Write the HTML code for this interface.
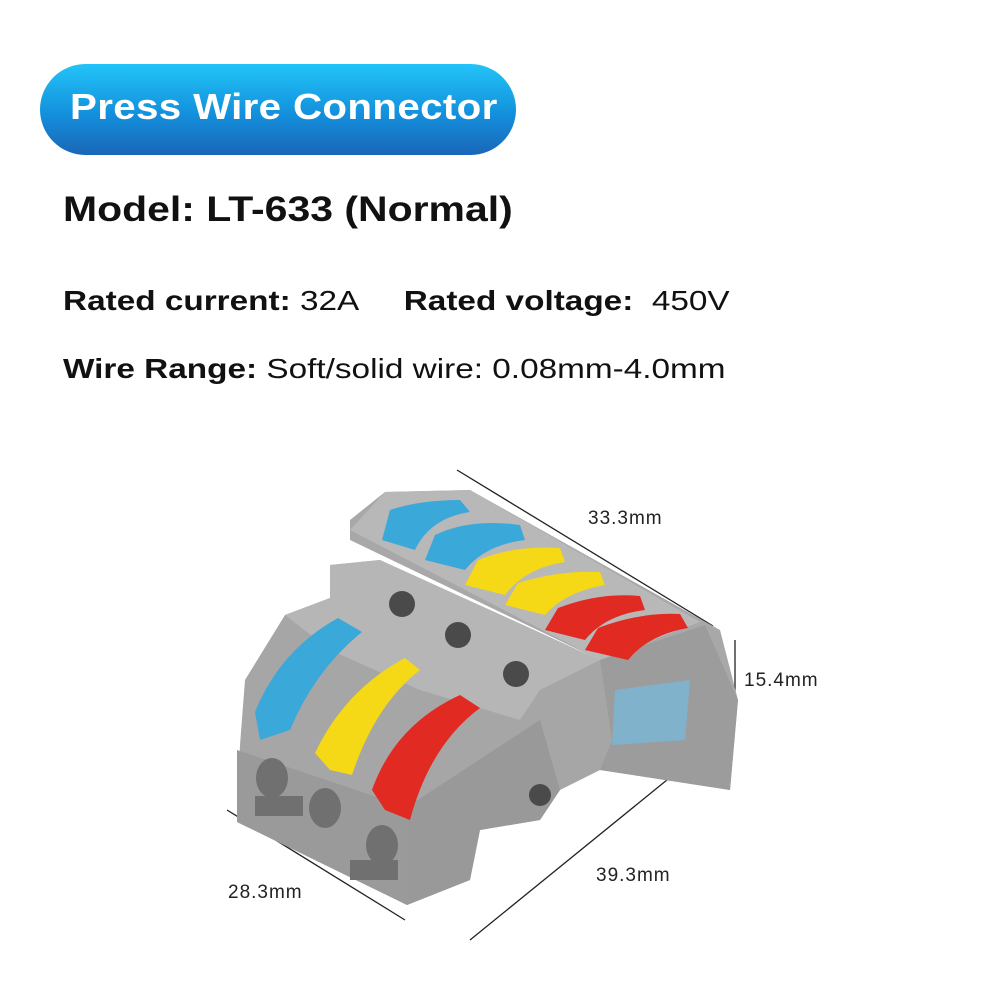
<!DOCTYPE html>
<html><head><meta charset="utf-8"><style>
body{margin:0;width:1000px;height:1000px;background:#fff;position:relative;overflow:hidden;font-family:"Liberation Sans",Arial,sans-serif}
.ban{position:absolute;left:40px;top:64px;width:476px;height:91px;border-radius:46px;background:linear-gradient(#22c4f8,#1390dc 55%,#1a66b8);}
.ban span{position:absolute;left:70px;top:22px;color:#fff;font-weight:bold;font-size:36px;white-space:nowrap;transform:scaleX(1.12);transform-origin:0 0;display:block;letter-spacing:0.3px}
.ban span{left:30px}
.t{position:absolute;color:#111;white-space:nowrap;transform-origin:0 0}
</style></head><body>
<div class="ban"><span>Press Wire Connector</span></div>
<div class="t" style="left:63px;top:190px;font-size:35px;font-weight:bold;transform:scaleX(1.17)">Model: LT-633 (Normal)</div>
<div class="t" style="left:63px;top:285px;font-size:28px;transform:scaleX(1.19)"><b>Rated current:</b> 32A &nbsp;&nbsp;&nbsp;&nbsp;<b>Rated voltage:</b>&nbsp; 450V</div>
<div class="t" style="left:63px;top:353px;font-size:28px;transform:scaleX(1.19)"><b>Wire Range:</b> Soft/solid wire: 0.08mm-4.0mm</div>
<svg width="1000" height="1000" style="position:absolute;left:0;top:0">
<g stroke="#222" stroke-width="1.3">
<line x1="457" y1="470" x2="713" y2="626"/>
<line x1="735" y1="640" x2="735" y2="715"/>
<line x1="227" y1="810" x2="405" y2="920"/>
<line x1="470" y1="940" x2="710" y2="745"/>
</g>
<g font-family="Liberation Sans,sans-serif" font-size="19" fill="#222" letter-spacing="1">
<text x="588" y="524">33.3mm</text>
<text x="744" y="686">15.4mm</text>
<text x="228" y="898">28.3mm</text>
<text x="596" y="881">39.3mm</text>
</g>
<polygon points="350,540 350,520 385,492 470,490 720,630 738,700 730,790 600,770 600,660" fill="#a8a8a8"/>
<polygon points="350,530 385,492 470,490 700,622 600,660" fill="#b8b8b8"/>
<polygon points="600,660 705,625 738,700 730,790 600,770" fill="#9c9c9c"/>
<polygon points="615,690 690,680 685,740 612,745" fill="#7ab8d8" opacity="0.8"/>
<polygon points="240,745 245,680 285,615 330,598 330,565 380,560 600,660 612,740 600,770 560,790 540,820 480,830 470,880 407,905 237,822" fill="#a6a6a6"/>
<polygon points="285,615 330,598 330,565 380,560 600,660 540,690 520,720 420,690 330,650" fill="#b6b6b6"/>
<polygon points="237,750 407,807 407,905 237,822" fill="#9a9a9a"/>
<polygon points="407,807 540,720 560,790 540,820 480,830 470,880 407,905" fill="#999"/>
<g fill="#4a4a4a"><circle cx="402" cy="604" r="13"/><circle cx="458" cy="635" r="13"/><circle cx="516" cy="674" r="13"/><circle cx="540" cy="795" r="11"/></g>
<g fill="#707070"><ellipse cx="272" cy="778" rx="16" ry="20"/><ellipse cx="325" cy="808" rx="16" ry="20"/><ellipse cx="382" cy="845" rx="16" ry="20"/>
<rect x="255" y="796" width="48" height="20"/><rect x="350" y="860" width="48" height="20"/></g>
<g>
<path d="M382,540 L390,510 Q420,500 460,500 L470,512 Q430,518 415,550 Z" fill="#3aa8d8"/>
<path d="M425,560 L435,535 Q470,518 520,525 L525,540 Q485,545 465,570 Z" fill="#3aa8d8"/>
<path d="M465,585 L478,560 Q515,545 560,548 L565,562 Q525,568 505,595 Z" fill="#f5d816"/>
<path d="M505,605 L518,583 Q560,570 600,572 L605,585 Q565,592 545,615 Z" fill="#f5d816"/>
<path d="M545,630 L558,608 Q600,592 640,596 L645,610 Q605,615 585,640 Z" fill="#e02a22"/>
<path d="M585,650 L598,628 Q640,612 680,614 L688,628 Q648,635 628,660 Z" fill="#e02a22"/>
</g>
<path d="M260,740 L255,712 Q280,650 338,618 L362,632 Q315,670 290,730 Z" fill="#3aa8d8"/>
<path d="M330,770 L315,753 Q345,690 405,658 L420,670 Q375,705 352,775 Z" fill="#f5d816"/>
<path d="M385,810 L372,790 Q395,725 460,695 L480,708 Q430,745 410,820 Z" fill="#e02a22"/>
</svg>
</body></html>
